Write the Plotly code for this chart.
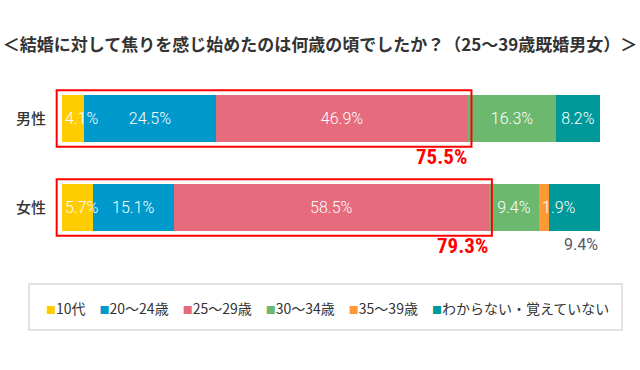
import plotly.graph_objects as go

# ---- data ----
categories = ["男性", "女性"]
series_names = ["10代", "20～24歳", "25～29歳", "30～34歳", "35～39歳", "わからない・覚えていない"]
v_10s = [4.1, 5.7]
v_20_24 = [24.5, 15.1]
v_25_29 = [46.9, 58.5]
v_30_34 = [16.3, 9.4]
v_35_39 = [0.0, 1.9]
v_unknown = [8.2, 9.4]
highlight_totals = [75.5, 79.3]   # 10代 + 20～24歳 + 25～29歳
title_text = "＜結婚に対して焦りを感じ始めたのは何歳の頃でしたか？（25～39歳既婚男女）＞"

series_values = [v_10s, v_20_24, v_25_29, v_30_34, v_35_39, v_unknown]
colors = ["#FFCC00", "#0099CC", "#E56B7D", "#6CB86F", "#FF9933", "#009999"]
# narrow segments whose labels start at the segment's left edge and overflow
overflow_series = ["10代", "35～39歳"]

JP = "Noto Sans CJK JP, Noto Sans, sans-serif"
NUM = "Roboto, Liberation Sans, Arial, sans-serif"
NUM_B = "Liberation Sans Narrow, Roboto Condensed, Liberation Sans, Arial, sans-serif"

XMIN = -1.5
# plot-area geometry (px) used to place the paper-referenced legend
L, R, T, B = 54, 40, 74, 118
PW, PH = 640 - L - R, 370 - T - B


def px_x(px):
    return (px - L) / PW


def px_y(py):
    return (370 - B - py) / PH


fig = go.Figure()
label_font = dict(family=NUM, size=16, color="white", weight=300)
cum = [0.0] * len(categories)
for name, vals, col in zip(series_names, series_values, colors):
    texts = []
    for ci, v in enumerate(vals):
        if v <= 0 or name in overflow_series:
            texts.append("")
        elif name == series_names[-1] and categories[ci] == "女性":
            texts.append("")  # shown below the bar instead
        else:
            texts.append(f"{v:.1f}%")
    fig.add_trace(go.Bar(
        y=categories, x=vals, name=name, orientation="h",
        marker=dict(color=col, line=dict(width=0)),
        text=texts, textposition="inside", insidetextanchor="middle",
        textangle=0, constraintext="none",
        textfont=label_font, width=0.522, showlegend=False,
    ))
    if name in overflow_series:
        for ci, v in enumerate(vals):
            if v > 0:
                fig.add_annotation(x=cum[ci], y=categories[ci], xref="x", yref="y",
                                   text=f"{v:.1f}%", showarrow=False,
                                   xanchor="left", yanchor="middle", xshift=1,
                                   font=label_font)
    cum = [c + v for c, v in zip(cum, vals)]

# red highlight boxes and totals
for ci, (cat, tot) in enumerate(zip(categories, highlight_totals)):
    fig.add_shape(type="rect", xref="x", yref="y",
                  x0=-1.0, x1=tot + 0.6, y0=ci - 0.317, y1=ci + 0.317,
                  line=dict(color="#FF0000", width=2), fillcolor="rgba(0,0,0,0)")
    fig.add_annotation(x=tot + 0.2, y=ci + 0.43, xref="x", yref="y",
                       text=f"<b>{tot:.1f}%</b>", showarrow=False,
                       xanchor="right", yanchor="middle",
                       font=dict(family=NUM_B, size=21, color="#FF0000"))

# female "わからない" label below bar
fi = categories.index("女性")
fig.add_annotation(x=100, y=fi + 0.42, xref="x", yref="y",
                   text=f"{v_unknown[fi]:.1f}%", showarrow=False,
                   xanchor="right", yanchor="middle",
                   font=dict(family=NUM, size=16, color="#55596A", weight=400))

# legend (custom line of coloured squares)
parts = []
for name, col in zip(series_names, colors):
    parts.append(f"<span style='color:{col};font-size:10px'>■</span>{name}")
legend_text = "　".join(parts)
fig.add_annotation(x=px_x(327), y=px_y(308), xref="paper", yref="paper",
                   text=legend_text, showarrow=False, xanchor="center", yanchor="middle",
                   font=dict(family=JP, size=14, color="#333333"))
fig.add_shape(type="rect", xref="paper", yref="paper",
              x0=px_x(29), x1=px_x(622), y0=px_y(330), y1=px_y(284),
              line=dict(color="#D9D9D9", width=1.5), fillcolor="rgba(0,0,0,0)")

fig.update_layout(
    barmode="stack",
    width=640, height=370,
    margin=dict(l=L, r=R, t=T, b=B, pad=0),
    paper_bgcolor="white", plot_bgcolor="white",
    title=dict(text=f"<b>{title_text}</b>", x=0.5, xref="container", xanchor="center",
               y=1 - 45 / 370, yref="container", yanchor="middle",
               font=dict(family=JP, size=17, color="#333333")),
    xaxis=dict(range=[XMIN, 100], visible=False, fixedrange=True),
    yaxis=dict(range=[1.5, -0.5], showgrid=False, zeroline=False, showline=False,
               ticks="outside", ticklen=4, tickcolor="rgba(0,0,0,0)",
               tickfont=dict(family=JP, size=15, color="#333333", weight=500),
               fixedrange=True),
    showlegend=False,
)

fig.write_html("out.html", config={"displayModeBar": False},
               post_script="document.body.style.margin='0';document.body.style.overflow='hidden';")
